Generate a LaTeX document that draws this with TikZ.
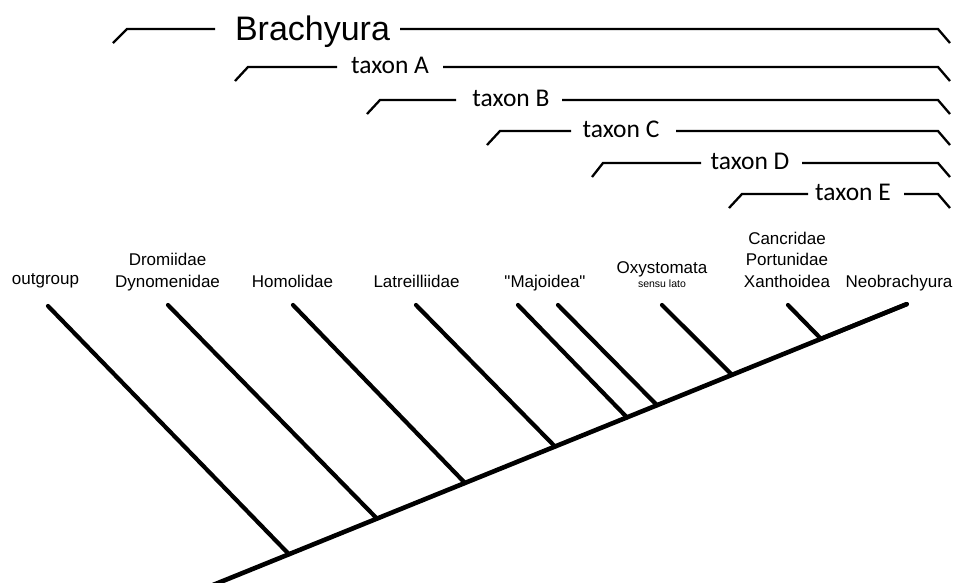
\documentclass[tikz,border=0pt]{standalone}
\usepackage{fontspec}
\setmainfont{Liberation Sans}
\newfontfamily\taxfont{Carlito}
\usetikzlibrary{calc}
% straight double quote, set by glyph so that no ligature mapping curls it
\newcommand\dquote{\XeTeXglyph\XeTeXcharglyph"22\relax}

\begin{document}
\begin{tikzpicture}[x=1pt,y=-1pt,
  branch/.style={line width=4.2pt, line cap=round},
  spine/.style={line width=4.6pt},
  bracket/.style={line width=2.3pt},
  grouplabel/.style={font=\taxfont\fontsize{25.5}{30}\selectfont, inner sep=0pt, anchor=base},
  toplabel/.style={font=\fontsize{34}{40}\selectfont, inner sep=0pt, anchor=base},
  tiplabel/.style={font=\fontsize{17}{21.5}\selectfont, align=center, anchor=base, inner sep=0pt},
]
\useasboundingbox (0,0) rectangle (954,582);

% ---- nested taxon brackets ----
\node[toplabel] (bra) at (312.5,40) {Brachyura};
\draw[bracket] (113,43) -- (127,29) -- (215,29);
\draw[bracket] (400,29) -- (938,29) -- (950,43);

\node[grouplabel] (ta) at (390,73.5) {taxon A};
\draw[bracket] (235,81) -- (248,67) -- (337,67);
\draw[bracket] (443,67) -- (938,67) -- (950,81);

\node[grouplabel] (tb) at (511,106.5) {taxon B};
\draw[bracket] (367,114) -- (380,100) -- (456,100);
\draw[bracket] (562,100) -- (938,100) -- (950,114);

\node[grouplabel] (tc) at (621,137.5) {taxon C};
\draw[bracket] (487,145) -- (500,131) -- (571,131);
\draw[bracket] (676,131) -- (938,131) -- (950,145);

\node[grouplabel] (td) at (750,169.5) {taxon D};
\draw[bracket] (592,177) -- (603,163) -- (701,163);
\draw[bracket] (802,163) -- (938,163) -- (950,177);

\node[grouplabel] (te) at (853,200.5) {taxon E};
\draw[bracket] (729,208) -- (742,194) -- (808,194);
\draw[bracket] (904,194) -- (938,194) -- (950,208);

% ---- cladogram ----
\coordinate (root) at (213,585);
\coordinate (neo) at (907,304);
\draw[spine] (root) -- (neo);

\coordinate (j1) at ($(root)!0.1095!(neo)$);
\coordinate (j2) at ($(root)!0.2363!(neo)$);
\coordinate (j3) at ($(root)!0.3631!(neo)$);
\coordinate (j4) at ($(root)!0.4928!(neo)$);
\coordinate (j5) at ($(root)!0.5965!(neo)$);
\coordinate (j6) at ($(root)!0.6398!(neo)$);
\coordinate (j7) at ($(root)!0.7478!(neo)$);
\coordinate (j8) at ($(root)!0.8761!(neo)$);
\draw[branch] (neo) -- (j8);

\coordinate (t1) at (48,306);
\coordinate (t2) at (168,305);
\coordinate (t3) at (293,305);
\coordinate (t4) at (416,305);
\coordinate (t5) at (518,305);
\coordinate (t6) at (558,305);
\coordinate (t7) at (662,305);
\coordinate (t8) at (788,305);

\foreach \i in {1,...,8} {
  \draw[branch] (t\i) -- (j\i);
}

% ---- terminal labels ----
\node[tiplabel] (l1) at (45.5,284) {outgroup};
\node[tiplabel] (l2) at (167.5,287) {Dromiidae\\Dynomenidae};
\node[tiplabel] (l3) at (292.5,287) {Homolidae};
\node[tiplabel] (l4) at (416.5,287) {Latreilliidae};
\node[tiplabel] (l5) at (545,287) {\dquote Majoidea\dquote};
\node[tiplabel] (l6) at (662,287) {Oxystomata\\[-7.5pt]{\fontsize{10.5}{12}\selectfont sensu lato}};
\node[tiplabel] (l7) at (787,287) {Cancridae\\Portunidae\\Xanthoidea};
\node[tiplabel] (l8) at (899,287) {Neobrachyura};
\end{tikzpicture}
\end{document}
